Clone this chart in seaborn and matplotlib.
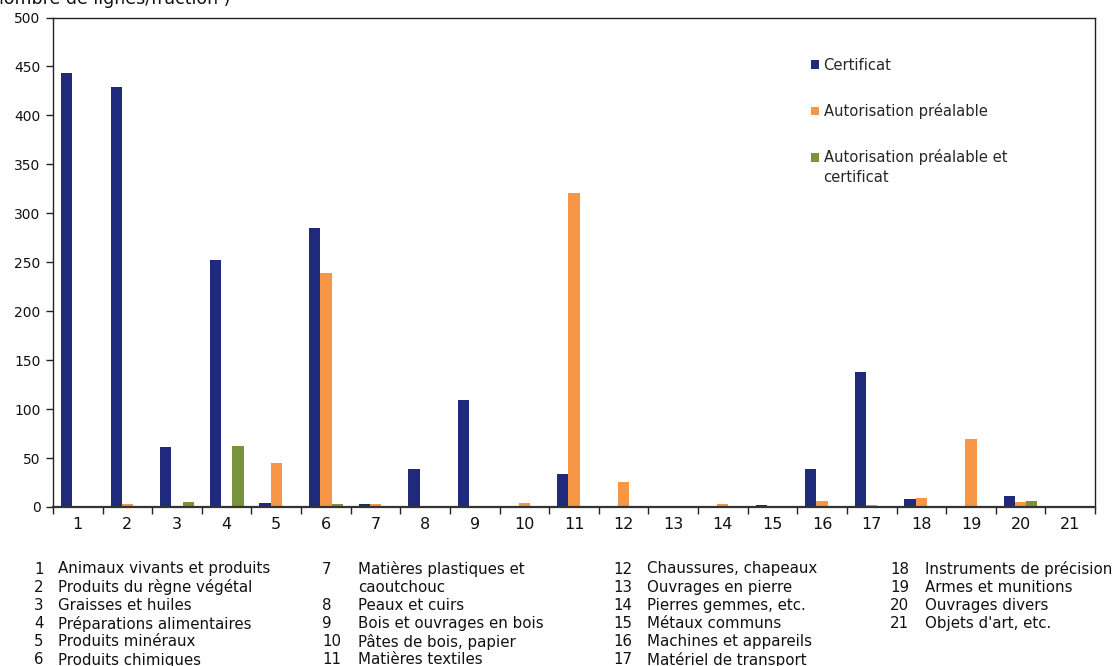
import matplotlib
matplotlib.use("Agg")
import matplotlib.pyplot as plt
import seaborn as sns
import pandas as pd
from matplotlib.ticker import FixedLocator, NullFormatter

# Sections of the harmonised system (1..21)
sections = [str(i) for i in range(1, 22)]

# Number of tariff lines per type of control
certificat = [443, 429, 61, 252, 4, 285, 3, 39, 109, 1, 34, 1, 1, 0, 2, 39, 138, 8, 0, 11, 0]
autorisation = [0, 3, 0, 0, 45, 239, 3, 0, 0, 4, 321, 26, 0, 3, 0, 6, 2, 9, 69, 5, 0]
autorisation_cert = [0, 0, 5, 62, 0, 3, 0, 0, 0, 0, 0, 0, 0, 0, 0, 0, 0, 0, 0, 6, 0]

series_names = ["Certificat", "Autorisation préalable", "Autorisation préalable et\ncertificat"]
series_colors = ["#1F2A7C", "#F79646", "#77933C"]

section_names = {
    1: "Animaux vivants et produits",
    2: "Produits du règne végétal",
    3: "Graisses et huiles",
    4: "Préparations alimentaires",
    5: "Produits minéraux",
    6: "Produits chimiques",
    7: "Matières plastiques et\ncaoutchouc",
    8: "Peaux et cuirs",
    9: "Bois et ouvrages en bois",
    10: "Pâtes de bois, papier",
    11: "Matières textiles",
    12: "Chaussures, chapeaux",
    13: "Ouvrages en pierre",
    14: "Pierres gemmes, etc.",
    15: "Métaux communs",
    16: "Machines et appareils",
    17: "Matériel de transport",
    18: "Instruments de précision",
    19: "Armes et munitions",
    20: "Ouvrages divers",
    21: "Objets d'art, etc.",
}
key_columns = [[1, 2, 3, 4, 5, 6], [7, 8, 9, 10, 11], [12, 13, 14, 15, 16, 17], [18, 19, 20, 21]]

y_ticks = list(range(0, 501, 50))
unit_label = "(nombre de lignes/fraction )"

df = pd.DataFrame({
    "section": sections * 3,
    "serie": [series_names[0]] * 21 + [series_names[1]] * 21 + [series_names[2]] * 21,
    "valeur": certificat + autorisation + autorisation_cert,
})

sns.set_style("white")
plt.rcParams["font.family"] = ["DejaVu Sans"]

W, H = 1113, 666
fig = plt.figure(figsize=(W / 100, H / 100), dpi=100)
ax = fig.add_axes([53 / W, 1 - 507 / H, (1095 - 53) / W, (507 - 17.5) / H])

sns.barplot(data=df, x="section", y="valeur", hue="serie", order=sections,
            hue_order=series_names, palette=series_colors, width=0.68,
            saturation=1, linewidth=0, ax=ax)

ax.set_xlim(-0.5, 20.5)
ax.set_ylim(0, 500)
ax.set_yticks(y_ticks)
ax.set_xlabel("")
ax.set_ylabel("")

for s in ax.spines.values():
    s.set_visible(True)
    s.set_color("#222222")
    s.set_linewidth(1.0)
ax.spines["bottom"].set_linewidth(1.6)
ax.spines["bottom"].set_color("#333333")

ax.tick_params(axis="y", left=True, length=5, width=1, color="#222222",
               labelsize=10, pad=4, labelcolor="#111111")
ax.tick_params(axis="x", which="major", bottom=True, length=0, labelsize=11.5,
               pad=7.5, labelcolor="#111111")
ax.xaxis.set_minor_locator(FixedLocator([i - 0.5 for i in range(22)]))
ax.xaxis.set_minor_formatter(NullFormatter())
ax.tick_params(axis="x", which="minor", bottom=True, length=5, width=1, color="#222222")

# Legend: the marker sits on the first line of a wrapped label
handles, labels = ax.get_legend_handles_labels()
first_lines = [lab.split("\n")[0] for lab in labels]
leg = ax.legend(handles, first_lines, loc="upper left",
                bbox_to_anchor=(811 / W, 1 - 58 / H),
                bbox_transform=fig.transFigure, frameon=False, fontsize=10.6,
                handlelength=0.55, handleheight=0.55, handletextpad=0.3,
                labelspacing=2.05, borderpad=0, borderaxespad=0)
fig.canvas.draw()
inv = fig.transFigure.inverted()
for t, lab in zip(leg.get_texts(), labels):
    rest = lab.split("\n")[1:]
    if rest:
        bb = t.get_window_extent()
        x0, y0 = inv.transform((bb.x0, bb.y0))
        for k, ln in enumerate(rest, start=1):
            fig.text(x0, y0 - k * 20 / H, ln, ha="left", va="bottom",
                     fontsize=10.6, color="#262626")

fig.text(230 / W, 1 - 4 / H, unit_label, ha="right", va="baseline",
         fontsize=12.5, color="#111111")

# Key to section numbers below the chart
code_x = [34, 322, 613, 890]
name_x = [58, 358, 647, 925]
row0 = 569
row_step = 18.2
for col, codes in enumerate(key_columns):
    row = 0
    for code in codes:
        lines = section_names[code].split("\n")
        fig.text(code_x[col] / W, 1 - (row0 + row * row_step) / H, str(code),
                 ha="left", va="center", fontsize=10.8, color="#111111")
        for ln in lines:
            fig.text(name_x[col] / W, 1 - (row0 + row * row_step) / H, ln,
                     ha="left", va="center", fontsize=10.8, color="#111111")
            row += 1

fig.savefig("out.png", dpi=100)
